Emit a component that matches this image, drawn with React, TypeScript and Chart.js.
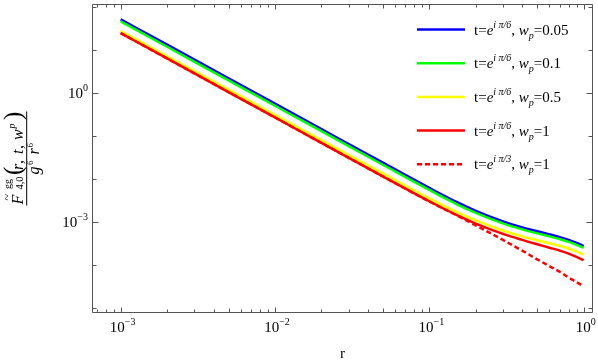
import React, { useEffect, useRef } from 'react';
import { Chart, registerables } from 'chart.js';

Chart.register(...registerables);

// ---- data ----
const rValues = [0.001, 0.002, 0.005, 0.01, 0.02, 0.05, 0.1, 0.15, 0.2, 0.3, 0.4, 0.5, 0.6, 0.7, 0.8, 0.9, 1.0];
const seriesWp005 = [52.6, 13.49, 2.234, 0.573, 0.1469, 2.432e-2, 6.3e-3, 2.97e-3, 1.85e-3, 1.05e-3, 7.64e-4, 6.18e-4, 5.25e-4, 4.53e-4, 3.91e-4, 3.33e-4, 2.81e-4];
const seriesWp01 = [47.2, 12.1, 2.0, 0.514, 0.1318, 2.18e-2, 5.65e-3, 2.66e-3, 1.66e-3, 9.42e-4, 6.85e-4, 5.54e-4, 4.71e-4, 4.06e-4, 3.51e-4, 2.99e-4, 2.53e-4];
const seriesWp05 = [28.1, 7.28, 1.218, 0.315, 0.0815, 1.367e-2, 3.62e-3, 1.75e-3, 1.11e-3, 6.43e-4, 4.71e-4, 3.83e-4, 3.27e-4, 2.84e-4, 2.46e-4, 2.1e-4, 1.77e-4];
const seriesWp1 = [25.2, 6.46, 1.07, 0.2745, 0.0704, 1.167e-2, 3.09e-3, 1.485e-3, 9.34e-4, 5.39e-4, 3.9e-4, 3.09e-4, 2.57e-4, 2.2e-4, 1.87e-4, 1.57e-4, 1.315e-4];
const seriesPi3Wp1 = [25.2, 6.46, 1.07, 0.2745, 0.0704, 1.167e-2, 3.04e-3, 1.46e-3, 8.51e-4, 3.89e-4, 2.19e-4, 1.38e-4, 9.55e-5, 7.08e-5, 5.19e-5, 4.07e-5, 3.24e-5];

const legendPhase = ['π/6', 'π/6', 'π/6', 'π/6', 'π/3'];
const legendWp = ['0.05', '0.1', '0.5', '1', '1'];
const seriesColors = ['#0000ff', '#00ff00', '#ffff00', '#ff0000', '#ff0000'];
const seriesDashed = [false, false, false, false, true];

const xTickValues = [1e-3, 1e-2, 1e-1, 1];
const xTickExponents = ['−3', '−2', '−1', '0'];
const yTickValues = [1, 1e-3];
const yTickExponents = ['0', '−3'];
const yMinorDecades = [100, 10, 1, 0.1, 0.01, 0.001, 1e-4, 1e-5];

const X_RANGE = [6.52e-4, 1.15];
const Y_RANGE = [7.78e-6, 119.4];

const FONT = '"Liberation Serif", "Times New Roman", serif';
const fnt = (size: number, it = false) => `${it ? 'italic ' : ''}${size}px ${FONT}`;

type Seg = { t: string; size: number; it?: boolean; dy?: number; dx?: number };

function measureSegs(ctx: CanvasRenderingContext2D, segs: Seg[]) {
  let w = 0;
  for (const s of segs) {
    ctx.font = fnt(s.size, s.it);
    w += ctx.measureText(s.t).width + (s.dx || 0);
  }
  return w;
}
function drawSegs(ctx: CanvasRenderingContext2D, segs: Seg[], x: number, y: number) {
  let cx = x;
  for (const s of segs) {
    ctx.font = fnt(s.size, s.it);
    cx += s.dx || 0;
    ctx.fillText(s.t, cx, y + (s.dy || 0));
    cx += ctx.measureText(s.t).width;
  }
  return cx;
}

// pieces of the rotated y-axis title: [text, size, italic, u (along text), v (baseline offset)]
const yTitleNumerator: [string, number, boolean, number, number][] = [
  ['F', 16, true, -46, -3.4],
  ['~', 12, false, -42, -16],
  ['gg', 10, false, -30.5, -16],
  ['4,0', 10.5, false, -31, -3.5],
  ['(', 25, false, -16.5, -6],
  ['r', 16, true, -11.5, -3.4],
  [',', 16, false, -5.5, -3.4],
  ['t', 16, true, 4.5, -3.4],
  [',', 16, false, 9.5, -3.4],
  ['w', 16, true, 18.5, -3.4],
  ['p', 10, true, 30, -11.5],
  [')', 25, false, 38.5, -6],
];
const yTitleDenominator: [string, number, boolean, number, number][] = [
  ['g', 16, true, -16, 11.8],
  ['6', 9, false, -6.5, 6.3],
  ['r', 16, true, 4, 11.8],
  ['6', 9, false, 11, 6.3],
];

const decorPlugin = {
  id: 'decor',
  beforeDraw(chart: any) {
    const ctx = chart.ctx as CanvasRenderingContext2D;
    ctx.save();
    ctx.fillStyle = '#ffffff';
    ctx.fillRect(0, 0, chart.width, chart.height);
    ctx.restore();
  },
  afterDraw(chart: any) {
    const ctx = chart.ctx as CanvasRenderingContext2D;
    const { left, right, top, bottom } = chart.chartArea;
    const xs = chart.scales.x;
    const ys = chart.scales.y;
    const L = Math.round(left) + 0.5;
    const R = Math.round(right) - 0.5;
    const T = Math.round(top) + 0.5;
    const B = Math.round(bottom) - 0.5;
    ctx.save();
    ctx.strokeStyle = '#555555';
    ctx.lineWidth = 1;
    ctx.beginPath();
    ctx.rect(L, T, R - L, B - T);
    ctx.stroke();

    // x ticks
    ctx.beginPath();
    for (let d = -4; d <= 0; d++) {
      for (let k = 1; k <= 9; k++) {
        const v = k * Math.pow(10, d);
        if (v < X_RANGE[0] || v > X_RANGE[1]) continue;
        const px = Math.round(xs.getPixelForValue(v)) + 0.5;
        const len = k === 1 ? 5 : k === 5 ? 4 : 3;
        ctx.moveTo(px, B);
        ctx.lineTo(px, B - len);
        ctx.moveTo(px, T);
        ctx.lineTo(px, T + len);
      }
    }
    // y ticks
    for (const v of yMinorDecades) {
      const py = Math.round(ys.getPixelForValue(v)) + 0.5;
      const len = yTickValues.includes(v) ? 6 : 4;
      ctx.moveTo(L, py);
      ctx.lineTo(L + len, py);
      ctx.moveTo(R, py);
      ctx.lineTo(R - len, py);
    }
    ctx.stroke();

    ctx.fillStyle = '#000000';
    ctx.textBaseline = 'alphabetic';
    ctx.textAlign = 'left';
    // x tick labels
    xTickValues.forEach((v, i) => {
      const segs: Seg[] = [{ t: '10', size: 15 }, { t: xTickExponents[i], size: 10, dy: -7 }];
      const w = measureSegs(ctx, segs);
      const px = xs.getPixelForValue(v);
      drawSegs(ctx, segs, px - w / 2 + 2, 332);
    });
    // y tick labels
    yTickValues.forEach((v, i) => {
      const segs: Seg[] = [{ t: '10', size: 15 }, { t: yTickExponents[i], size: 10, dy: -7 }];
      const w = measureSegs(ctx, segs);
      const py = ys.getPixelForValue(v);
      drawSegs(ctx, segs, 88 - w, py + 5);
    });

    // x axis title
    ctx.font = fnt(15);
    const rw = ctx.measureText('r').width;
    ctx.fillText('r', (left + right) / 2 - rw / 2, 358);

    // legend
    for (let i = 0; i < legendWp.length; i++) {
      const y = 29.5 + i * 33.7;
      ctx.save();
      ctx.strokeStyle = seriesColors[i];
      ctx.lineWidth = 2.5;
      if (seriesDashed[i]) ctx.setLineDash([5, 3]);
      ctx.beginPath();
      ctx.moveTo(417, y);
      ctx.lineTo(465, y);
      ctx.stroke();
      ctx.restore();
      const segs: Seg[] = [
        { t: 't=', size: 15 },
        { t: 'e', size: 15, it: true },
        { t: 'i', size: 10, it: true, dy: -7 },
        { t: ' ' + legendPhase[i], size: 10, it: true, dy: -7 },
        { t: ', ', size: 15 },
        { t: 'w', size: 15, it: true },
        { t: 'p', size: 10, it: true, dy: 4 },
        { t: '=' + legendWp[i], size: 15 },
      ];
      drawSegs(ctx, segs, 474, y + 5);
    }

    // y axis title (rotated fraction)
    ctx.save();
    ctx.translate(26.7, (top + bottom) / 2);
    ctx.rotate(-Math.PI / 2);
    for (const [t, size, it, u, v] of yTitleNumerator) {
      ctx.font = fnt(size, it);
      ctx.fillText(t, u, v);
    }
    ctx.strokeStyle = '#000000';
    ctx.lineWidth = 1;
    ctx.beginPath();
    ctx.moveTo(-47, 0);
    ctx.lineTo(47, 0);
    ctx.stroke();
    for (const [t, size, it, u, v] of yTitleDenominator) {
      ctx.font = fnt(size, it);
      ctx.fillText(t, u, v);
    }
    ctx.restore();

    ctx.restore();
  },
};

export default function App() {
  const ref = useRef<HTMLCanvasElement | null>(null);
  useEffect(() => {
    document.body.style.margin = '0';
    const canvas = ref.current;
    if (!canvas) return;
    const allSeries = [seriesWp005, seriesWp01, seriesWp05, seriesWp1, seriesPi3Wp1];
    const datasets = allSeries.map((vals, i) => ({
      label: `t=e^{i ${legendPhase[i]}}, w_p=${legendWp[i]}`,
      data: rValues.map((r, j) => ({ x: r, y: vals[j] })),
      borderColor: seriesColors[i],
      backgroundColor: seriesColors[i],
      borderWidth: 2.5,
      borderDash: seriesDashed[i] ? [5, 3] : [],
      pointRadius: 0,
      fill: false,
      cubicInterpolationMode: 'monotone' as const,
      order: allSeries.length - i,
    }));
    const chart = new Chart(canvas, {
      type: 'line',
      data: { datasets },
      options: {
        animation: false,
        responsive: false,
        devicePixelRatio: 1,
        layout: { padding: { left: 92, right: 5, top: 4, bottom: 49 } },
        plugins: { legend: { display: false }, tooltip: { enabled: false } },
        scales: {
          x: { type: 'logarithmic', min: X_RANGE[0], max: X_RANGE[1], display: false },
          y: { type: 'logarithmic', min: Y_RANGE[0], max: Y_RANGE[1], display: false },
        },
      },
      plugins: [decorPlugin],
    } as any);
    return () => chart.destroy();
  }, []);
  return (
    <div style={{ width: 598, height: 362 }}>
      <canvas ref={ref} width={598} height={362} style={{ display: 'block' }} />
    </div>
  );
}
